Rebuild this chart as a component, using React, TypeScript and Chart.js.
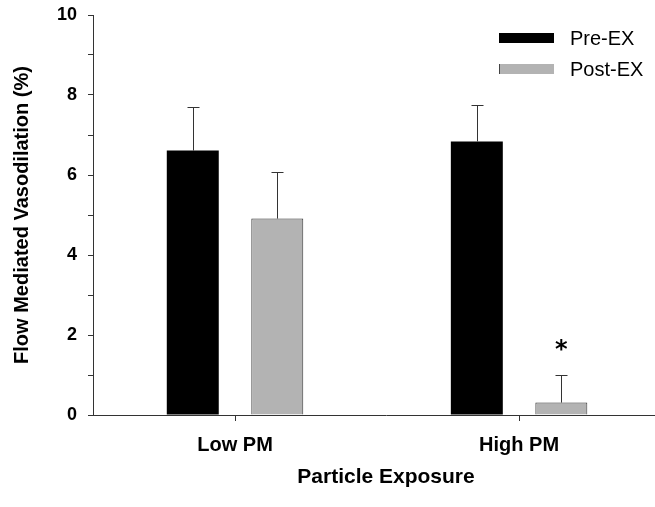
import React, { useEffect, useRef } from 'react';
import { Chart, registerables } from 'chart.js';

Chart.register(...registerables);

const categories = ['Low PM', 'High PM'];
const seriesNames = ['Pre-EX', 'Post-EX'];
const preEx = [6.61, 6.84];
const postEx = [4.91, 0.31];
const preErr = [1.1, 0.9];
const postErr = [1.17, 0.69];
const preMarks = ['', ''];
const postMarks = ['', '*'];
const yLabelValues = [0, 2, 4, 6, 8, 10];
const yAxisTitle = 'Flow Mediated Vasodilation (%)';
const xAxisTitle = 'Particle Exposure';

const FONT = "'Liberation Sans', Arial, Helvetica, sans-serif";
const CANVAS_W = 679;
const CANVAS_H = 507;

const errorBarPlugin = {
  id: 'errorBars',
  afterDatasetsDraw(chart: any) {
    const ctx = chart.ctx;
    const yScale = chart.scales.y;
    ctx.save();
    chart.data.datasets.forEach((ds: any, di: number) => {
      const meta = chart.getDatasetMeta(di);
      meta.data.forEach((el: any, i: number) => {
        const v = ds.data[i].y;
        const e = ds.errors[i];
        const top = yScale.getPixelForValue(v + e);
        const x = Math.round(el.x) + 0.5;
        ctx.strokeStyle = '#333';
        ctx.lineWidth = 1;
        ctx.beginPath();
        ctx.moveTo(x, el.y);
        ctx.lineTo(x, Math.round(top) + 0.5);
        ctx.moveTo(x - 6, Math.round(top) + 0.5);
        ctx.lineTo(x + 6, Math.round(top) + 0.5);
        ctx.stroke();
        const mark = ds.marks[i];
        if (mark) {
          ctx.fillStyle = '#000';
          ctx.font = `bold 24px 'DejaVu Sans', sans-serif`;
          ctx.textAlign = 'center';
          ctx.textBaseline = 'alphabetic';
          const m = ctx.measureText(mark);
          const center = top - 30;
          const base = center + (m.actualBoundingBoxAscent - m.actualBoundingBoxDescent) / 2;
          ctx.fillText(mark, el.x, base);
        }
      });
    });
    ctx.restore();
  },
};

const legendPlugin = {
  id: 'boxLegend',
  afterDraw(chart: any) {
    const ctx = chart.ctx;
    ctx.save();
    chart.data.datasets.forEach((ds: any, i: number) => {
      const y = 33 + i * 31;
      ctx.fillStyle = ds.backgroundColor;
      ctx.fillRect(499, y, 55, 10);
      if (i === 1) {
        ctx.strokeStyle = '#444';
        ctx.lineWidth = 1;
        ctx.beginPath();
        ctx.moveTo(499.5, y);
        ctx.lineTo(499.5, y + 10);
        ctx.stroke();
      }
      ctx.fillStyle = '#000';
      ctx.font = `20px ${FONT}`;
      ctx.textAlign = 'left';
      ctx.textBaseline = 'middle';
      ctx.fillText(ds.label, 570, y + 6);
    });
    ctx.restore();
  },
};

export default function App() {
  const canvasRef = useRef<HTMLCanvasElement | null>(null);

  useEffect(() => {
    document.body.style.margin = '0';
    const canvas = canvasRef.current;
    if (!canvas) return;
    Chart.defaults.font.family = FONT;
    const chart = new Chart(canvas, {
      type: 'bar',
      data: {
        datasets: [
          {
            label: seriesNames[0],
            data: categories.map((_, i) => ({ x: i + 1, y: preEx[i] })),
            backgroundColor: '#000000',
            borderColor: '#000000',
            borderWidth: 0,
            errors: preErr,
            marks: preMarks,
          } as any,
          {
            label: seriesNames[1],
            data: categories.map((_, i) => ({ x: i + 1, y: postEx[i] })),
            backgroundColor: '#b3b3b3',
            borderColor: '#333333',
            borderWidth: 1,
            errors: postErr,
            marks: postMarks,
          } as any,
        ],
      },
      options: {
        responsive: false,
        animation: false,
        categoryPercentage: 0.595,
        barPercentage: 0.615,
        layout: { padding: { top: 0, left: 0, right: 0, bottom: 0 } },
        plugins: {
          legend: { display: false },
          tooltip: { enabled: false },
        },
        scales: {
          x: {
            type: 'linear',
            offset: false,
            min: 0.5,
            max: 2.563,
            afterBuildTicks: (s: any) => {
              s.ticks = categories.map((_, i) => ({ value: i + 1 }));
            },
            afterFit: (s: any) => {
              s.height = 92;
              s.paddingLeft = 0;
              s.paddingRight = 0;
            },
            ticks: {
              callback: (_v: any, index: number) => categories[index] ?? '',
              font: { size: 20, weight: 'bold' },
              color: '#000',
              padding: 12,
              maxRotation: 0,
              autoSkip: false,
            },
            grid: { display: true, offset: false, drawOnChartArea: false, drawTicks: true, tickLength: 6, color: '#333' },
            border: { display: true, color: '#333', width: 1 },
            title: {
              display: true,
              text: xAxisTitle,
              font: { size: 21, weight: 'bold' },
              color: '#000',
              padding: { top: 0, bottom: 17 },
            },
          },
          y: {
            min: 0,
            max: 10,
            afterFit: (s: any) => {
              s.width = 93;
              s.paddingTop = 15;
              s.paddingBottom = 0;
            },
            ticks: {
              stepSize: 1,
              autoSkip: false,
              callback: (v: any) => (yLabelValues.includes(Number(v)) ? String(v) : ''),
              font: { size: 18, weight: 'bold' },
              color: '#000',
              padding: 11,
            },
            grid: { display: true, drawOnChartArea: false, drawTicks: true, tickLength: 5, color: '#333' },
            border: { display: true, color: '#333', width: 1 },
            title: {
              display: true,
              text: yAxisTitle,
              font: { size: 20, weight: 'bold' },
              color: '#000',
              padding: { top: 10, bottom: 0 },
            },
          },
        },
      } as any,
      plugins: [errorBarPlugin, legendPlugin],
    });
    return () => chart.destroy();
  }, []);

  return (
    <div style={{ width: 655, height: 507, overflow: 'hidden', background: '#fff' }}>
      <canvas ref={canvasRef} width={CANVAS_W} height={CANVAS_H} style={{ display: 'block' }} />
    </div>
  );
}
